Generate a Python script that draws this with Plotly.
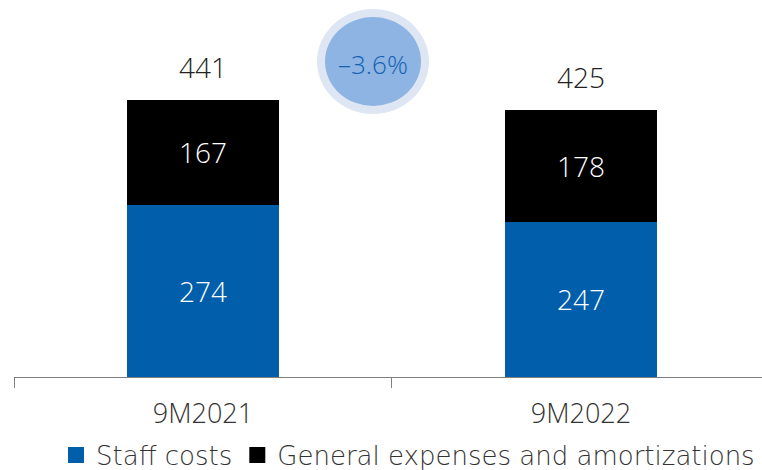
import plotly.graph_objects as go

categories = ["9M2021", "9M2022"]
staff_costs = [274, 247]
general_expenses = [167, 178]
totals = [441, 425]
change_label = "–3.6%"

FONT = "DejaVu Sans"
NUMFONT = "Open Sans"
BLUE = "#005EAA"
fig = go.Figure()
fig.add_trace(go.Bar(
    x=categories, y=staff_costs, name="Staff costs", showlegend=False,
    marker=dict(color=BLUE, line=dict(width=0)),
    text=[str(v) for v in staff_costs], textposition="inside",
    insidetextanchor="middle",
    textfont=dict(color="white", size=28, family=NUMFONT, weight=300),
    width=0.4, hoverinfo="skip",
))
fig.add_trace(go.Bar(
    x=categories, y=general_expenses, name="General expenses and amortizations", showlegend=False,
    marker=dict(color="#000000", line=dict(width=0)),
    text=[str(v) for v in general_expenses], textposition="inside",
    insidetextanchor="middle",
    textfont=dict(color="white", size=28, family=NUMFONT, weight=300),
    width=0.4, hoverinfo="skip",
))
for nm, col in [("Staff costs", BLUE), ("General expenses and amortizations", "#000000")]:
    fig.add_trace(go.Scatter(x=[None], y=[None], mode="markers", name=nm,
                             marker=dict(symbol="square", size=17, color=col), showlegend=True))

for c, t in zip(categories, totals):
    fig.add_annotation(x=c, y=t, text=str(t), showarrow=False, yanchor="bottom",
                       yshift=12, font=dict(size=28, color="#222", family=NUMFONT, weight=300))

W, H = 762, 470
L, R, T, B = 14, 0, 0, 93
pw, ph = W - L - R, H - T - B

def px(x):
    return (x - L) / pw

def py(y):
    return (H - B - y) / ph

fig.add_shape(type="circle", xref="paper", yref="paper",
              x0=px(317), x1=px(429), y0=py(114), y1=py(9),
              fillcolor="#DDE6F2", line=dict(width=0), layer="above")
fig.add_shape(type="circle", xref="paper", yref="paper",
              x0=px(325), x1=px(421), y0=py(106), y1=py(17),
              fillcolor="#8EB4E3", line=dict(width=0), layer="above")
fig.add_annotation(xref="paper", yref="paper", x=px(373), y=py(64), text=change_label,
                   xanchor="center", yanchor="middle",
                   showarrow=False, font=dict(size=26, color="#1562B0", family=NUMFONT, weight=300))

fig.update_layout(
    width=W, height=H,
    margin=dict(l=L, r=R, t=T, b=B, pad=0, autoexpand=False),
    barmode="stack",
    plot_bgcolor="white", paper_bgcolor="white",
    font=dict(family=FONT, color="#333"),
    hovermode=False,
    xaxis=dict(range=[-0.5, 1.479], showline=True, linecolor="#7f7f7f", linewidth=1,
               ticks="outside", tickson="boundaries", ticklen=10, tickcolor="#7f7f7f",
               ticklabelstandoff=13,
               tickfont=dict(size=27, color="#333", family=NUMFONT, weight=300),
               showgrid=False, fixedrange=True),
    yaxis=dict(range=[0, 600], visible=False, showgrid=False, fixedrange=True),
    showlegend=True,
    legend=dict(orientation="h", x=px(56), y=py(455), xanchor="left", yanchor="middle",
                traceorder="normal",
                font=dict(size=26, color="#333", family=FONT, weight=200),
                itemwidth=30, tracegroupgap=0, bgcolor="rgba(0,0,0,0)"),
    bargap=0.6,
)
fig.write_html("out.html", config={"displayModeBar": False},
               post_script="document.body.style.margin='0';document.body.style.overflow='hidden';")
